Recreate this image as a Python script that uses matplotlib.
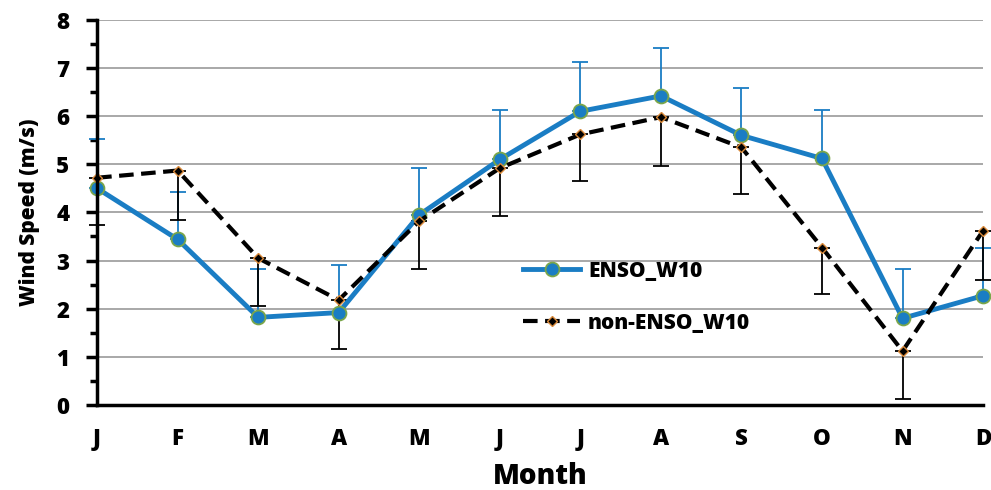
import matplotlib
matplotlib.use("Agg")
import matplotlib.pyplot as plt
from matplotlib.ticker import MultipleLocator

# monthly mean 10 m wind speed
months = ['J', 'F', 'M', 'A', 'M', 'J', 'J', 'A', 'S', 'O', 'N', 'D']
enso = [4.50, 3.44, 1.82, 1.92, 3.95, 5.10, 6.10, 6.42, 5.60, 5.12, 1.80, 2.27]
enso_err = [1.03, 0.98, 1.01, 0.98, 0.97, 1.02, 1.02, 1.00, 0.98, 1.00, 1.02, 1.00]
non_enso = [4.72, 4.87, 3.05, 2.18, 3.82, 4.92, 5.62, 5.98, 5.35, 3.27, 1.12, 3.62]
non_enso_err = [0.98, 1.02, 1.00, 1.01, 0.99, 0.99, 0.97, 1.01, 0.97, 0.97, 0.99, 1.02]

plt.rcParams['font.family'] = ['Open Sans', 'DejaVu Sans']
plt.rcParams['font.weight'] = 'heavy'

fig = plt.figure(figsize=(9.91, 4.9), dpi=100)
ax = fig.add_axes([0.098, 0.1735, 0.894, 0.786])

x = list(range(len(months)))
blue = '#1a7dc4'

# error bars: ENSO upwards only, non-ENSO downwards only
ax.errorbar(x, enso, yerr=[[0] * 12, enso_err], fmt='none', ecolor=blue,
            elinewidth=1.3, capsize=6, capthick=1.3, zorder=3, clip_on=False)
ax.errorbar(x, non_enso, yerr=[non_enso_err, [0] * 12], fmt='none', ecolor='black',
            elinewidth=1.3, capsize=6, capthick=1.3, zorder=3, clip_on=False)

ax.plot(x, enso, color=blue, lw=3.5, marker='o', ms=10, mfc=blue, mec='#7aa64a',
        mew=1.3, label='ENSO_W10', zorder=4, clip_on=False)
ax.plot(x, non_enso, color='black', lw=3, ls=(0, (3.5, 1.8)), marker='D', ms=5,
        mfc='black', mec='#d9893a', mew=1.0, label='non-ENSO_W10', zorder=5,
        clip_on=False)

ax.set_xlim(0, 11)
ax.set_ylim(0, 8)
ax.set_xticks(x)
ax.set_xticklabels(months)
ax.yaxis.set_major_locator(MultipleLocator(1))
ax.yaxis.set_minor_locator(MultipleLocator(0.5))
ax.grid(axis='y', which='major', color='#999999', lw=1.2, zorder=0)

for s in ['top', 'right']:
    ax.spines[s].set_visible(False)
for s in ['left', 'bottom']:
    ax.spines[s].set_linewidth(2.5)
    ax.spines[s].set_zorder(6)

ax.tick_params(axis='y', which='major', length=8, width=2.5, labelsize=16, pad=12)
ax.tick_params(axis='y', which='minor', length=5, width=2.5)
ax.tick_params(axis='x', length=0, labelsize=16, pad=16)

ax.set_xlabel('Month', fontsize=20, fontweight='heavy', labelpad=8)
ax.set_ylabel('Wind Speed (m/s)', fontsize=15, fontweight='heavy', labelpad=12)

ax.legend(loc='center left', bbox_to_anchor=(0.46, 0.28), frameon=False,
          prop={'size': 15, 'weight': 'heavy'}, handlelength=2.7,
          labelspacing=1.5, handletextpad=0.4)

fig.savefig('out.png', dpi=100)
